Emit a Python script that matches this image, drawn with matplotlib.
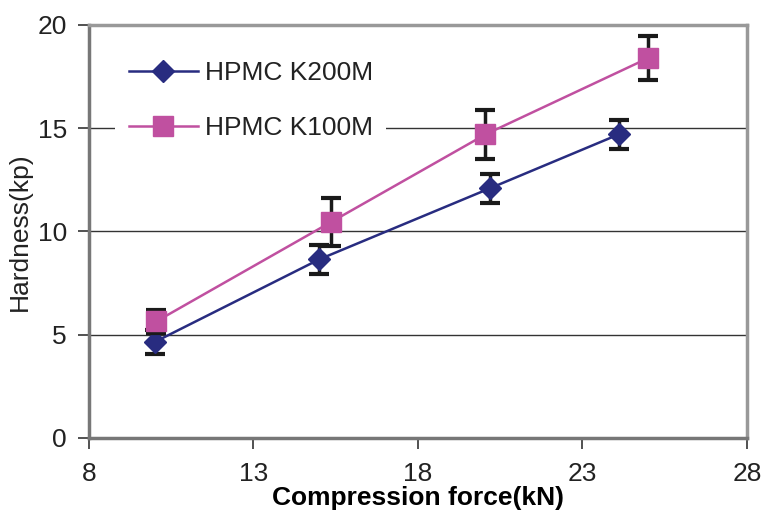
import numpy as np
import matplotlib.pyplot as plt

plt.rcParams['font.family'] = ['Liberation Sans', 'DejaVu Sans']

# data
force_k200 = [10.0, 15.0, 20.2, 24.1]
hard_k200 = [4.65, 8.65, 12.1, 14.7]
err_k200 = [0.6, 0.7, 0.7, 0.7]

force_k100 = [10.05, 15.35, 20.05, 25.0]
hard_k100 = [5.65, 10.45, 14.7, 18.4]
err_k100 = [0.55, 1.15, 1.2, 1.05]

blue = '#282c80'
pink = '#c050a0'

fig = plt.figure(figsize=(7.62, 5.14), dpi=100)
ax = fig.add_axes([0.1168, 0.1479, 0.8635, 0.8035])

ax.errorbar(force_k200, hard_k200, yerr=err_k200, fmt='none', ecolor='#1a1a1a',
            elinewidth=2.5, capsize=7, capthick=3, zorder=3)
ax.plot(force_k200, hard_k200, color=blue, lw=1.8, marker='D', ms=11,
        mec=blue, mfc=blue, label='HPMC K200M', zorder=4)

ax.errorbar(force_k100, hard_k100, yerr=err_k100, fmt='none', ecolor='#1a1a1a',
            elinewidth=2.5, capsize=7, capthick=3, zorder=5)
ax.plot(force_k100, hard_k100, color=pink, lw=1.8, marker='s', ms=14,
        mec=pink, mfc=pink, label='HPMC K100M', zorder=6)

ax.set_xlim(8, 28)
ax.set_ylim(0, 20)
ax.set_xticks([8, 13, 18, 23, 28])
ax.set_yticks([0, 5, 10, 15, 20])
ax.yaxis.grid(True, color='#333333', lw=1)
ax.set_axisbelow(True)

for side in ['top', 'right']:
    ax.spines[side].set_color('#999999')
    ax.spines[side].set_linewidth(2.5)
for side in ['left', 'bottom']:
    ax.spines[side].set_color('#777777')
    ax.spines[side].set_linewidth(2.5)

ax.tick_params(axis='both', direction='out', length=8, width=1.2, color='#333333',
               labelsize=19, labelcolor='#222222')
ax.tick_params(axis='x', pad=9)
ax.tick_params(axis='y', pad=8)

ax.set_xlabel('Compression force(kN)', fontsize=19, fontweight='bold', labelpad=0)
ax.set_ylabel('Hardness(kp)', fontsize=19, labelpad=4, color='#222222')

leg = ax.legend(loc='upper left', bbox_to_anchor=(0.04, 0.944), fontsize=19,
                handlelength=2.65, handletextpad=0.25, labelspacing=1.18,
                frameon=True, fancybox=False, borderpad=0.5, borderaxespad=0)
leg.get_frame().set_edgecolor('none')
leg.get_frame().set_facecolor('white')
leg.get_frame().set_alpha(1)
for t in leg.get_texts():
    t.set_color('#222222')

fig.savefig('out.png', dpi=100)
